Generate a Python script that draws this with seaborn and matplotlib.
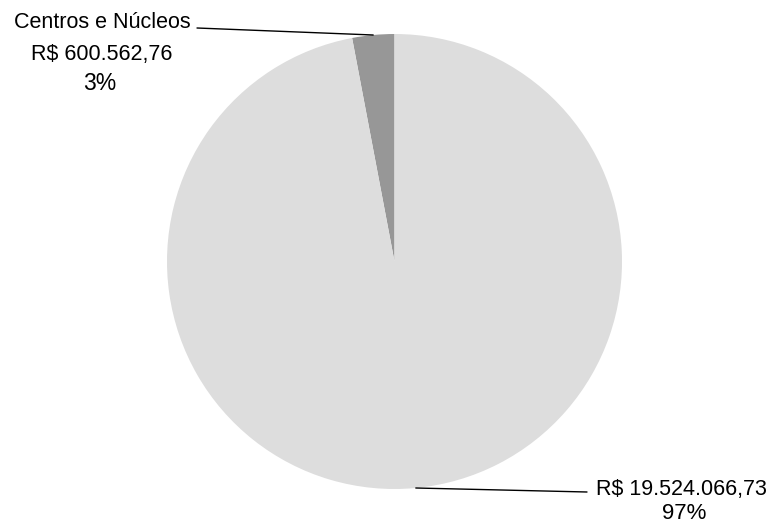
import numpy as np
import matplotlib
matplotlib.use("Agg")
import matplotlib.pyplot as plt
import seaborn as sns

# Data
categories = ["Centros e Núcleos", ""]
values = [600562.76, 19524066.73]
value_labels = ["R$ 600.562,76", "R$ 19.524.066,73"]
pct_labels = ["3%", "97%"]
colors = ["#979797", "#DDDDDD"]

sns.set_theme(style="white")
plt.rcParams["font.family"] = ["Liberation Sans", "DejaVu Sans"]

W, H = 777, 525
fig = plt.figure(figsize=(W / 100, H / 100), dpi=100)
fig.patch.set_facecolor("white")

cx, cy, r = 394.5, 261.5, 227.5
ax = fig.add_axes([(cx - r) / W, (H - (cy + r)) / H, 2 * r / W, 2 * r / H])
wedges, _ = ax.pie(values, colors=colors, startangle=90, counterclock=True,
                   radius=1.0, wedgeprops=dict(linewidth=0))
ax.set_xlim(-1, 1)
ax.set_ylim(-1, 1)
ax.set_aspect("equal")
ax.axis("off")

def fx(x):
    return x / W

def fy(y):
    return 1 - y / H

# label layout (image pixel coordinates)
line_starts = [(197, 28), (587, 492)]
text_blocks = [
    [(categories[0], 102, 28, 15.5), (value_labels[0], 102, 60, 15.5), (pct_labels[0], 100, 90, 16.5)],
    [(value_labels[1], 681, 495, 15.5), (pct_labels[1], 684, 519, 16.0)],
]

for w, start, block in zip(wedges, line_starts, text_blocks):
    mid = np.deg2rad((w.theta1 + w.theta2) / 2)
    px, py = np.cos(mid), np.sin(mid)
    ax.annotate("", xy=(px, py), xycoords="data",
                xytext=(fx(start[0]), fy(start[1])), textcoords="figure fraction",
                arrowprops=dict(arrowstyle="-", color="black", lw=1.0,
                                shrinkA=0, shrinkB=0),
                annotation_clip=False)
    for txt, x, y, size in block:
        fig.text(fx(x), fy(y), txt, ha="center", va="baseline",
                 fontsize=size, color="black")

fig.savefig("out.png", dpi=100, facecolor="white")
